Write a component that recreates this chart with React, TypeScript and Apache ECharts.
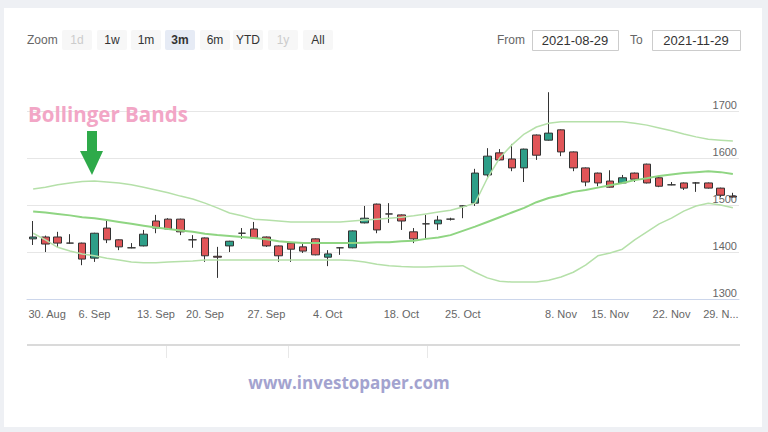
import React, { useEffect, useRef } from "react";
import * as echarts from "echarts";

const dates = [
  "2021-08-30", "2021-08-31", "2021-09-01", "2021-09-02", "2021-09-03",
  "2021-09-06", "2021-09-07", "2021-09-08", "2021-09-09", "2021-09-10",
  "2021-09-13", "2021-09-14", "2021-09-15", "2021-09-16",
  "2021-09-20", "2021-09-21", "2021-09-22", "2021-09-23", "2021-09-24",
  "2021-09-27", "2021-09-28", "2021-09-29", "2021-09-30", "2021-10-01",
  "2021-10-04", "2021-10-11", "2021-10-12", "2021-10-13", "2021-10-14", "2021-10-15",
  "2021-10-18", "2021-10-19", "2021-10-20", "2021-10-21", "2021-10-22",
  "2021-10-25", "2021-10-26", "2021-10-27", "2021-10-28", "2021-10-29", "2021-11-01", "2021-11-03", "2021-11-05",
  "2021-11-08", "2021-11-09", "2021-11-10", "2021-11-12",
  "2021-11-15", "2021-11-16", "2021-11-17", "2021-11-18", "2021-11-19",
  "2021-11-22", "2021-11-23", "2021-11-24", "2021-11-25", "2021-11-26",
  "2021-11-29",
];

const openP = [1429, 1433, 1433, 1420, 1420, 1388, 1452, 1427, 1410, 1414, 1467, 1471, 1471, 1427, 1431, 1392, 1414, 1441, 1450, 1433, 1414, 1420, 1412, 1429, 1390, 1410, 1410, 1463, 1503, 1482, 1480, 1444, 1461, 1461, 1471, 1499, 1505, 1565, 1612, 1599, 1580, 1650, 1639, 1661, 1614, 1580, 1569, 1552, 1548, 1569, 1588, 1559, 1544, 1548, 1548, 1548, 1537, 1520];
const closeP = [1433, 1418, 1420, 1420, 1386, 1441, 1427, 1412, 1410, 1439, 1452, 1450, 1444, 1427, 1393, 1390, 1424, 1441, 1431, 1414, 1393, 1407, 1403, 1395, 1397, 1410, 1446, 1473, 1448, 1482, 1467, 1429, 1461, 1469, 1471, 1499, 1569, 1605, 1597, 1580, 1620, 1607, 1654, 1614, 1580, 1550, 1548, 1539, 1559, 1556, 1548, 1541, 1544, 1537, 1548, 1537, 1522, 1518];
const lowP = [1416, 1401, 1410, 1419, 1373, 1380, 1420, 1405, 1409, 1413, 1441, 1448, 1437, 1410, 1380, 1346, 1401, 1429, 1430, 1412, 1380, 1380, 1399, 1394, 1371, 1395, 1409, 1462, 1441, 1463, 1448, 1420, 1429, 1448, 1468, 1473, 1499, 1559, 1596, 1573, 1550, 1597, 1638, 1605, 1573, 1541, 1541, 1538, 1546, 1550, 1547, 1539, 1543, 1533, 1529, 1536, 1518, 1517];
const highP = [1467, 1436, 1444, 1439, 1421, 1442, 1469, 1428, 1420, 1448, 1480, 1473, 1472, 1437, 1432, 1412, 1425, 1452, 1465, 1434, 1415, 1421, 1418, 1430, 1405, 1411, 1447, 1499, 1504, 1505, 1481, 1452, 1480, 1478, 1474, 1500, 1578, 1622, 1620, 1631, 1621, 1651, 1741, 1662, 1615, 1581, 1570, 1575, 1565, 1570, 1589, 1560, 1550, 1549, 1550, 1549, 1538, 1527];

const upperBand = [1535, 1539, 1544, 1548, 1551, 1552, 1550, 1548, 1544, 1539, 1533, 1527, 1520, 1514, 1505, 1495, 1484, 1478, 1471, 1469, 1467, 1465, 1465, 1465, 1465, 1465, 1467, 1469, 1471, 1473, 1475, 1478, 1482, 1486, 1490, 1497, 1505, 1558, 1601, 1629, 1652, 1667, 1675, 1678, 1678, 1678, 1678, 1678, 1678, 1675, 1671, 1665, 1659, 1652, 1646, 1641, 1639, 1637];
const middleBand = [1487, 1485, 1482, 1479, 1475, 1473, 1469, 1465, 1461, 1457, 1453, 1450, 1447, 1444, 1440, 1437, 1435, 1433, 1431, 1428, 1424, 1422, 1420, 1420, 1420, 1420, 1420, 1421, 1422, 1422, 1424, 1425, 1429, 1432, 1437, 1446, 1455, 1465, 1475, 1485, 1495, 1507, 1516, 1522, 1529, 1533, 1538, 1543, 1548, 1554, 1558, 1563, 1566, 1569, 1571, 1573, 1571, 1567];
const lowerBand = [1441, 1427, 1411, 1403, 1397, 1393, 1388, 1384, 1380, 1378, 1378, 1380, 1381, 1382, 1384, 1384, 1384, 1384, 1384, 1384, 1384, 1384, 1384, 1384, 1384, 1384, 1383, 1380, 1375, 1372, 1370, 1369, 1369, 1370, 1371, 1372, 1358, 1346, 1339, 1337, 1337, 1337, 1341, 1348, 1358, 1373, 1393, 1399, 1407, 1427, 1444, 1461, 1473, 1488, 1499, 1505, 1501, 1495];

const tickDates = ["2021-08-30", "2021-09-06", "2021-09-13", "2021-09-20", "2021-09-27", "2021-10-04", "2021-10-18", "2021-10-25", "2021-11-08", "2021-11-15", "2021-11-22", "2021-11-29"];
const tickLabels = ["30. Aug", "6. Sep", "13. Sep", "20. Sep", "27. Sep", "4. Oct", "18. Oct", "25. Oct", "8. Nov", "15. Nov", "22. Nov", "29. N..."];

const rangeButtons = ["1d", "1w", "1m", "3m", "6m", "YTD", "1y", "All"];
const disabledButtons = ["1d", "1y"];
const selectedButton = "3m";
const fromDate = "2021-08-29";
const toDate = "2021-11-29";

const FONT = "'Liberation Sans', Arial, sans-serif";

export default function App() {
  const ref = useRef<HTMLDivElement>(null);
  useEffect(() => {
    document.body.style.margin = "0";
    if (!ref.current) return;
    const chart = echarts.init(ref.current, null, { renderer: "svg" });

    const ohlc = dates.map((_, i) => [openP[i], closeP[i], lowP[i], highP[i]]);
    const tickMap: Record<string, string> = {};
    tickDates.forEach((d, i) => (tickMap[d] = tickLabels[i]));
    const xData = dates.map((d) => {
      if (d === tickDates[0]) return { value: d, textStyle: { padding: [0, 0, 0, 28] } };
      if (d === tickDates[tickDates.length - 1]) return { value: d, textStyle: { padding: [0, 24, 0, 0] } };
      return d;
    });

    const btnCenters = [77, 112, 146, 180, 215, 248, 283, 318];
    const graphics: any[] = [];
    const frame = "#eef0f4";
    graphics.push({ type: "rect", shape: { x: 0, y: 0, width: 768, height: 8 }, style: { fill: frame } });
    graphics.push({ type: "rect", shape: { x: 0, y: 0, width: 4, height: 432 }, style: { fill: frame } });
    graphics.push({ type: "rect", shape: { x: 762, y: 0, width: 6, height: 432 }, style: { fill: frame } });
    graphics.push({ type: "rect", shape: { x: 0, y: 427, width: 768, height: 5 }, style: { fill: frame } });
    graphics.push({
      type: "text", x: 27, y: 40,
      style: { text: "Zoom", fill: "#666666", fontSize: 12, fontFamily: FONT, align: "left", verticalAlign: "middle" },
    });
    rangeButtons.forEach((b, i) => {
      const cx = btnCenters[i];
      const sel = b === selectedButton;
      const dis = disabledButtons.includes(b);
      graphics.push({
        type: "rect", shape: { x: cx - 15, y: 30, width: 30, height: 20, r: 2 },
        style: { fill: sel ? "#e6ebf5" : "#f7f7f7" },
      });
      graphics.push({
        type: "text", x: cx, y: 40,
        style: {
          text: b, fill: dis ? "#cccccc" : "#333333", fontSize: 12, fontFamily: FONT,
          fontWeight: sel ? "bold" : "normal", align: "center", verticalAlign: "middle",
        },
      });
    });
    graphics.push({
      type: "text", x: 497, y: 40,
      style: { text: "From", fill: "#666666", fontSize: 12, fontFamily: FONT, align: "left", verticalAlign: "middle" },
    });
    graphics.push({
      type: "rect", shape: { x: 532.5, y: 30.5, width: 86, height: 20 },
      style: { fill: "#ffffff", stroke: "#cccccc", lineWidth: 1 },
    });
    graphics.push({
      type: "text", x: 575, y: 40.5,
      style: { text: fromDate, fill: "#333333", fontSize: 13, fontFamily: FONT, align: "center", verticalAlign: "middle" },
    });
    graphics.push({
      type: "text", x: 630, y: 40,
      style: { text: "To", fill: "#666666", fontSize: 12, fontFamily: FONT, align: "left", verticalAlign: "middle" },
    });
    graphics.push({
      type: "rect", shape: { x: 652.5, y: 30.5, width: 88, height: 20 },
      style: { fill: "#ffffff", stroke: "#cccccc", lineWidth: 1 },
    });
    graphics.push({
      type: "text", x: 696, y: 40.5,
      style: { text: toDate, fill: "#333333", fontSize: 13, fontFamily: FONT, align: "center", verticalAlign: "middle" },
    });
    graphics.push({
      type: "text", x: 28, y: 114, z: 10,
      style: {
        text: "Bollinger Bands", fill: "#f2a6c6", fontSize: 20.5, fontWeight: "bold",
        fontFamily: "'Open Sans', sans-serif", align: "left", verticalAlign: "middle",
      },
    });
    graphics.push({
      type: "polygon", z: 10,
      shape: { points: [[87, 131], [97, 131], [97, 151], [103, 151], [92, 175], [80, 151], [87, 151]] },
      style: { fill: "#2eaa4a" },
    });
    graphics.push({ type: "rect", shape: { x: 27, y: 344, width: 713, height: 2 }, style: { fill: "#dadada" } });
    [166, 288, 427].forEach((x) => {
      graphics.push({ type: "line", shape: { x1: x + 0.5, y1: 346, x2: x + 0.5, y2: 358 }, style: { stroke: "#e8e8e8", lineWidth: 1 } });
    });
    graphics.push({
      type: "text", x: 349, y: 382,
      style: {
        text: "www.investopaper.com", fill: "#a3a3cf", fontSize: 17, fontWeight: "bold",
        fontFamily: "'Open Sans', sans-serif", align: "center", verticalAlign: "middle",
      },
    });

    chart.setOption({
      animation: false,
      backgroundColor: "#ffffff",
      textStyle: { fontFamily: FONT },
      grid: { left: 27, right: 29, top: 88, bottom: 132.5, containLabel: false },
      xAxis: {
        type: "category",
        data: xData,
        boundaryGap: true,
        axisLine: { lineStyle: { color: "#ccd6eb" } },
        axisTick: {
          alignWithLabel: true,
          interval: (_i: number, v: string) => v in tickMap,
          length: 8,
          lineStyle: { color: "#ccd6eb" },
        },
        axisLabel: {
          interval: (_i: number, v: string) => v in tickMap,
          formatter: (v: string) => tickMap[v] || "",
          color: "#666666",
          fontSize: 11,
          margin: 9,
        },
        splitLine: { show: false },
      },
      yAxis: {
        type: "value",
        position: "right",
        min: 1300,
        max: 1750,
        interval: 100,
        axisLine: { show: false },
        axisTick: { show: false },
        splitLine: { lineStyle: { color: "#e6e6e6" }, showMaxLine: false },
        axisLabel: {
          inside: true,
          verticalAlign: "bottom",
          margin: 2,
          color: "#666666",
          fontSize: 11,
          showMaxLabel: false,
          padding: [0, 0, 1, 0],
          formatter: (v: number) => String(v),
        },
      },
      series: [
        { type: "line", data: upperBand, symbol: "none", silent: true, lineStyle: { color: "#b5e0a9", width: 1.5 } },
        { type: "line", data: middleBand, symbol: "none", silent: true, lineStyle: { color: "#8fd582", width: 2 } },
        { type: "line", data: lowerBand, symbol: "none", silent: true, lineStyle: { color: "#b5e0a9", width: 1.5 } },
        {
          type: "candlestick",
          data: ohlc,
          barWidth: 8,
          itemStyle: {
            color: "#2e9e88",
            color0: "#e05558",
            borderColor: "#333333",
            borderColor0: "#333333",
            borderWidth: 1,
          },
        },
      ],
      graphic: graphics,
    });
    return () => chart.dispose();
  }, []);
  return <div ref={ref} style={{ width: 768, height: 432 }} />;
}
